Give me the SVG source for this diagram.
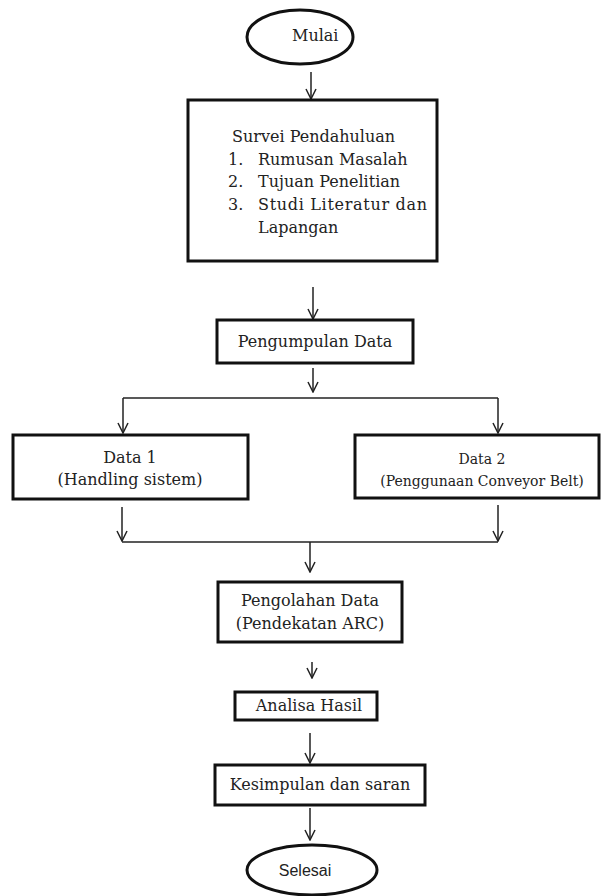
<svg xmlns="http://www.w3.org/2000/svg" width="601" height="896" viewBox="0 0 601 896">
<defs>
<style>
.box{fill:#fff;stroke:#111;stroke-width:3}
.t{font-family:"DejaVu Serif","Liberation Serif",serif;font-size:16px;fill:#222}
.ts{font-family:"DejaVu Serif","Liberation Serif",serif;font-size:14px;fill:#222}
.c{text-anchor:middle}
.cn{fill:none;stroke:#222;stroke-width:1.5}
</style>
<marker id="ah" viewBox="0 0 12 12" refX="11" refY="6" markerWidth="12" markerHeight="12" markerUnits="userSpaceOnUse" orient="auto"><path d="M1,1 L11,6 L1,11" fill="none" stroke="#222" stroke-width="1.5"/></marker>
</defs>
<rect width="601" height="896" fill="#fff"/>
<g id="connectors">
<path class="cn" d="M311,72 V99" marker-end="url(#ah)"/>
<path class="cn" d="M313,287 V319" marker-end="url(#ah)"/>
<path class="cn" d="M313,368 V392" marker-end="url(#ah)"/>
<path class="cn" d="M123,398 H498"/>
<path class="cn" d="M123,398 V433" marker-end="url(#ah)"/>
<path class="cn" d="M498,398 V433" marker-end="url(#ah)"/>
<path class="cn" d="M122,507 V541" marker-end="url(#ah)"/>
<path class="cn" d="M498,505 V541" marker-end="url(#ah)"/>
<path class="cn" d="M122,542 H498"/>
<path class="cn" d="M310,542 V572" marker-end="url(#ah)"/>
<path class="cn" d="M312,662 V678" marker-end="url(#ah)"/>
<path class="cn" d="M310,733 V763" marker-end="url(#ah)"/>
<path class="cn" d="M310,808 V840" marker-end="url(#ah)"/>
</g>
<g id="mulai">
<ellipse class="box" cx="300" cy="37" rx="53" ry="27"/>
<text class="t" x="292" y="41">Mulai</text>
</g>
<g id="survei">
<rect class="box" x="188" y="100" width="249" height="161"/>
<text class="t" x="232" y="142">Survei Pendahuluan</text>
<text class="t" x="228" y="165">1.</text><text class="t" x="258" y="165">Rumusan Masalah</text>
<text class="t" x="228" y="187">2.</text><text class="t" x="258" y="187">Tujuan Penelitian</text>
<text class="t" x="228" y="210">3.</text><text class="t" x="258" y="210" textLength="169" lengthAdjust="spacing">Studi Literatur dan</text>
<text class="t" x="258" y="233">Lapangan</text>
</g>
<g id="pengumpulan">
<rect class="box" x="217" y="320" width="196" height="43"/>
<text class="t c" x="315" y="347">Pengumpulan Data</text>
</g>
<g id="data1">
<rect class="box" x="13" y="435" width="235" height="64"/>
<text class="t c" x="130" y="463">Data 1</text>
<text class="t c" x="130" y="485">(Handling sistem)</text>
</g>
<g id="data2">
<rect class="box" x="355" y="435" width="244" height="63"/>
<text class="ts c" x="482" y="464">Data 2</text>
<text class="ts c" x="482" y="486">(Penggunaan Conveyor Belt)</text>
</g>
<g id="pengolahan">
<rect class="box" x="218" y="582" width="184" height="60"/>
<text class="t c" x="310" y="606">Pengolahan Data</text>
<text class="t c" x="310" y="629">(Pendekatan ARC)</text>
</g>
<g id="analisa">
<rect class="box" x="235" y="692" width="142" height="28"/>
<text class="t c" x="309" y="711">Analisa Hasil</text>
</g>
<g id="kesimpulan">
<rect class="box" x="215" y="765" width="210" height="40"/>
<text class="t c" x="320" y="790">Kesimpulan dan saran</text>
</g>
<g id="selesai">
<ellipse class="box" cx="312" cy="870" rx="65" ry="25"/>
<text x="305" y="876" text-anchor="middle" style="font-family:'Liberation Sans',Arial,sans-serif;font-size:16px;fill:#222">Selesai</text>
</g>
</svg>
